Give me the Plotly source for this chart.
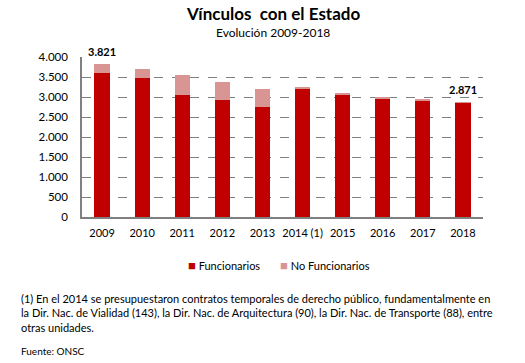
import plotly.graph_objects as go

years = ["2009", "2010", "2011", "2012", "2013", "2014 (1)", "2015", "2016", "2017", "2018"]
funcionarios = [3590, 3480, 3060, 2920, 2750, 3200, 3060, 2960, 2915, 2850]
no_funcionarios = [231, 210, 480, 460, 450, 30, 25, 22, 22, 21]
totals_labeled = {"2009": "3.821", "2018": "2.871"}
series_names = ["Funcionarios", "No Funcionarios"]
series_colors = ["#C00000", "#D99594"]

FONT = "Lato"
L, R, T, B = 82, 42, 57, 146
W, H = 525, 363
ph = H - T - B
pw = W - L - R

fig = go.Figure()
for name, vals, col in zip(series_names, [funcionarios, no_funcionarios], series_colors):
    fig.add_trace(go.Bar(x=years, y=vals, name=name, showlegend=False,
                         marker=dict(color=col, line=dict(width=0))))

annotations = []
for yr, lab in totals_labeled.items():
    i = years.index(yr)
    annotations.append(dict(xref="x", yref="y", x=i, y=funcionarios[i] + no_funcionarios[i],
                            text="<b>" + lab + "</b>",
                            showarrow=False, yanchor="bottom", yshift=4,
                            font=dict(family=FONT, size=11, color="#000")))

def px_x(p):
    return (p - L) / pw

def px_y(p):
    return (H - B - p) / ph

annotations.append(dict(xref="paper", yref="paper", x=px_x(273), y=px_y(13), text="<b>Vínculos  con el Estado</b>",
                        showarrow=False, xanchor="center", yanchor="middle",
                        font=dict(family=FONT, size=17, color="#000")))
annotations.append(dict(xref="paper", yref="paper", x=px_x(273), y=px_y(32), text="Evolución 2009-2018",
                        showarrow=False, xanchor="center", yanchor="middle",
                        font=dict(family=FONT, size=12, color="#000")))
# legend built as text
leg_x = [186, 278]
for name, col, lx in zip(series_names, series_colors, leg_x):
    annotations.append(dict(xref="paper", yref="paper", x=px_x(lx), y=px_y(265),
                            text="<span style='color:%s;font-size:13px'>■</span> %s" % (col, name),
                            showarrow=False, xanchor="left", yanchor="middle",
                            font=dict(family=FONT, size=11, color="#000")))
foot = ("(1) En el 2014 se presupuestaron contratos temporales de derecho público, fundamentalmente en<br>"
        "la Dir. Nac. de Vialidad (143), la Dir. Nac. de Arquitectura (90), la Dir. Nac. de Transporte (88), entre<br>"
        "otras unidades.")
annotations.append(dict(xref="paper", yref="paper", x=px_x(19), y=px_y(290), text=foot,
                        showarrow=False, xanchor="left", yanchor="top", align="left",
                        font=dict(family=FONT, size=11, color="#000")))
annotations.append(dict(xref="paper", yref="paper", x=px_x(19), y=px_y(351), text="Fuente: ONSC",
                        showarrow=False, xanchor="left", yanchor="middle", align="left",
                        font=dict(family=FONT, size=10, color="#000")))

fig.update_layout(
    width=W, height=H, barmode="stack", bargap=0.62,
    margin=dict(l=L, r=R, t=T, b=B, pad=0),
    plot_bgcolor="white", paper_bgcolor="white",
    separators=",.",
    font=dict(family=FONT, size=11, color="#000"),
    showlegend=False,
    annotations=annotations,
)
fig.update_yaxes(range=[0, 4000], tickvals=[0, 500, 1000, 1500, 2000, 2500, 3000, 3500, 4000],
                 tickformat=",d", showgrid=True, gridcolor="#808080", griddash="dash", gridwidth=1,
                 showline=True, linecolor="#808080", linewidth=1.5, zeroline=False,
                 ticks="", ticklen=0, tickfont=dict(family=FONT, size=11.5), ticklabelstandoff=10)
fig.update_xaxes(type="category", showline=True, linecolor="#808080", linewidth=1.5, ticks="", showgrid=False,
                 tickfont=dict(family=FONT, size=11), ticklabelstandoff=5)

fig.write_html("out.html", config={"displayModeBar": False},
               post_script="document.body.style.margin='0px';document.body.style.overflow='hidden';")
